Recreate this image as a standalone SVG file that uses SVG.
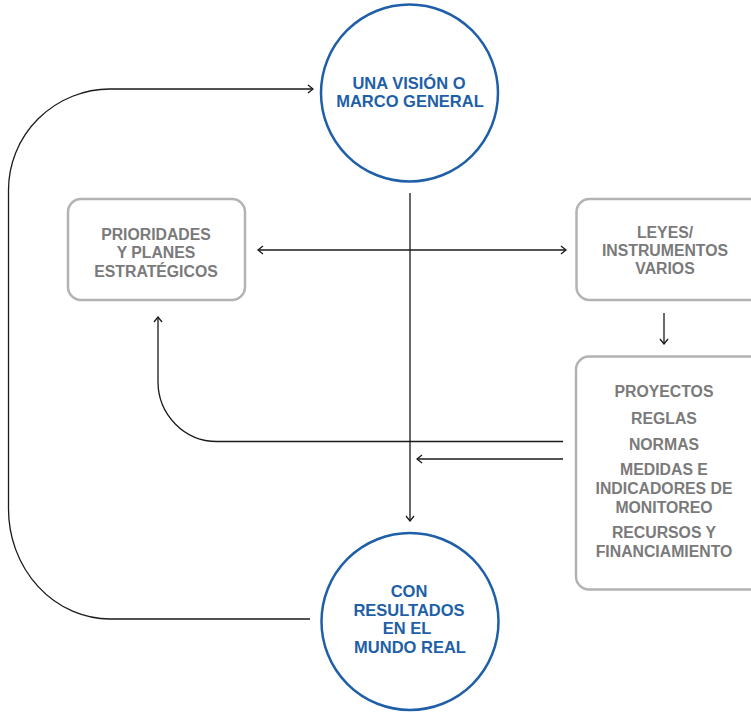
<svg xmlns="http://www.w3.org/2000/svg" width="751" height="712" viewBox="0 0 751 712">
  <defs>
    <style>
      .circle { fill: #ffffff; stroke: #1e5fa8; stroke-width: 2.5; }
      .box { fill: #ffffff; stroke: #b3b3b3; stroke-width: 2.5; }
      .blue { font-family: "Liberation Sans", Arial, sans-serif; font-weight: bold; font-size: 16.5px; fill: #1e5fa8; text-anchor: middle; }
      .gray { font-family: "Liberation Sans", Arial, sans-serif; font-weight: bold; font-size: 15.8px; fill: #7a7a7a; text-anchor: middle; }
      .link { fill: none; stroke: #1a1a1a; stroke-width: 1.3; }
    </style>
    <marker id="arrow" viewBox="0 0 10 10" refX="9" refY="5" markerWidth="10" markerHeight="10" markerUnits="userSpaceOnUse" orient="auto-start-reverse">
      <path d="M 4 1 L 9 5 L 4 9" fill="none" stroke="#1a1a1a" stroke-width="1.3"/>
    </marker>
  </defs>

  <rect width="751" height="712" fill="#ffffff"/>

  <!-- connectors -->
  <g id="connectors">
    <!-- feedback loop from results back to the vision -->
    <path class="link" d="M 310 619 H 110 A 102 110 0 0 1 8.5 509 V 190 A 102 101 0 0 1 110 89 H 313" marker-end="url(#arrow)"/>
    <!-- vision down to results -->
    <path class="link" d="M 410 193 V 521" marker-end="url(#arrow)"/>
    <!-- priorities and laws, both ways -->
    <path class="link" d="M 258 250 H 566" marker-start="url(#arrow)" marker-end="url(#arrow)"/>
    <!-- laws down to projects -->
    <path class="link" d="M 664 313 V 344" marker-end="url(#arrow)"/>
    <!-- projects back up to priorities -->
    <path class="link" d="M 563 441.5 H 217 A 59 60 0 0 1 158 381.5 V 317" marker-end="url(#arrow)"/>
    <!-- projects to the central axis -->
    <path class="link" d="M 563 459 H 417" marker-end="url(#arrow)"/>
  </g>

  <g id="vision">
    <circle class="circle" cx="409.5" cy="93" r="88.5"/>
    <text class="blue" x="409" y="89">UNA VISIÓN O</text>
    <text class="blue" x="410" y="107">MARCO GENERAL</text>
  </g>

  <g id="results">
    <circle class="circle" cx="410" cy="621.5" r="88.5"/>
    <text class="blue" x="409" y="597">CON</text>
    <text class="blue" x="409" y="616">RESULTADOS</text>
    <text class="blue" x="407" y="634">EN EL</text>
    <text class="blue" x="410" y="653">MUNDO REAL</text>
  </g>

  <g id="priorities">
    <rect class="box" x="68" y="199" width="177" height="101" rx="13"/>
    <text class="gray" x="156" y="240">PRIORIDADES</text>
    <text class="gray" x="156" y="258">Y PLANES</text>
    <text class="gray" x="156" y="277">ESTRATÉGICOS</text>
  </g>

  <g id="laws">
    <rect class="box" x="576.5" y="199" width="190" height="101" rx="13"/>
    <text class="gray" x="665" y="238">LEYES/</text>
    <text class="gray" x="665" y="256">INSTRUMENTOS</text>
    <text class="gray" x="665" y="274">VARIOS</text>
  </g>

  <g id="projects">
    <rect class="box" x="576" y="356.5" width="190" height="233" rx="13"/>
    <text class="gray" x="664" y="397">PROYECTOS</text>
    <text class="gray" x="664" y="424">REGLAS</text>
    <text class="gray" x="664" y="450">NORMAS</text>
    <text class="gray" x="664" y="475">MEDIDAS E</text>
    <text class="gray" x="664" y="494">INDICADORES DE</text>
    <text class="gray" x="664" y="513">MONITOREO</text>
    <text class="gray" x="664" y="538">RECURSOS Y</text>
    <text class="gray" x="664" y="557">FINANCIAMIENTO</text>
  </g>
</svg>
